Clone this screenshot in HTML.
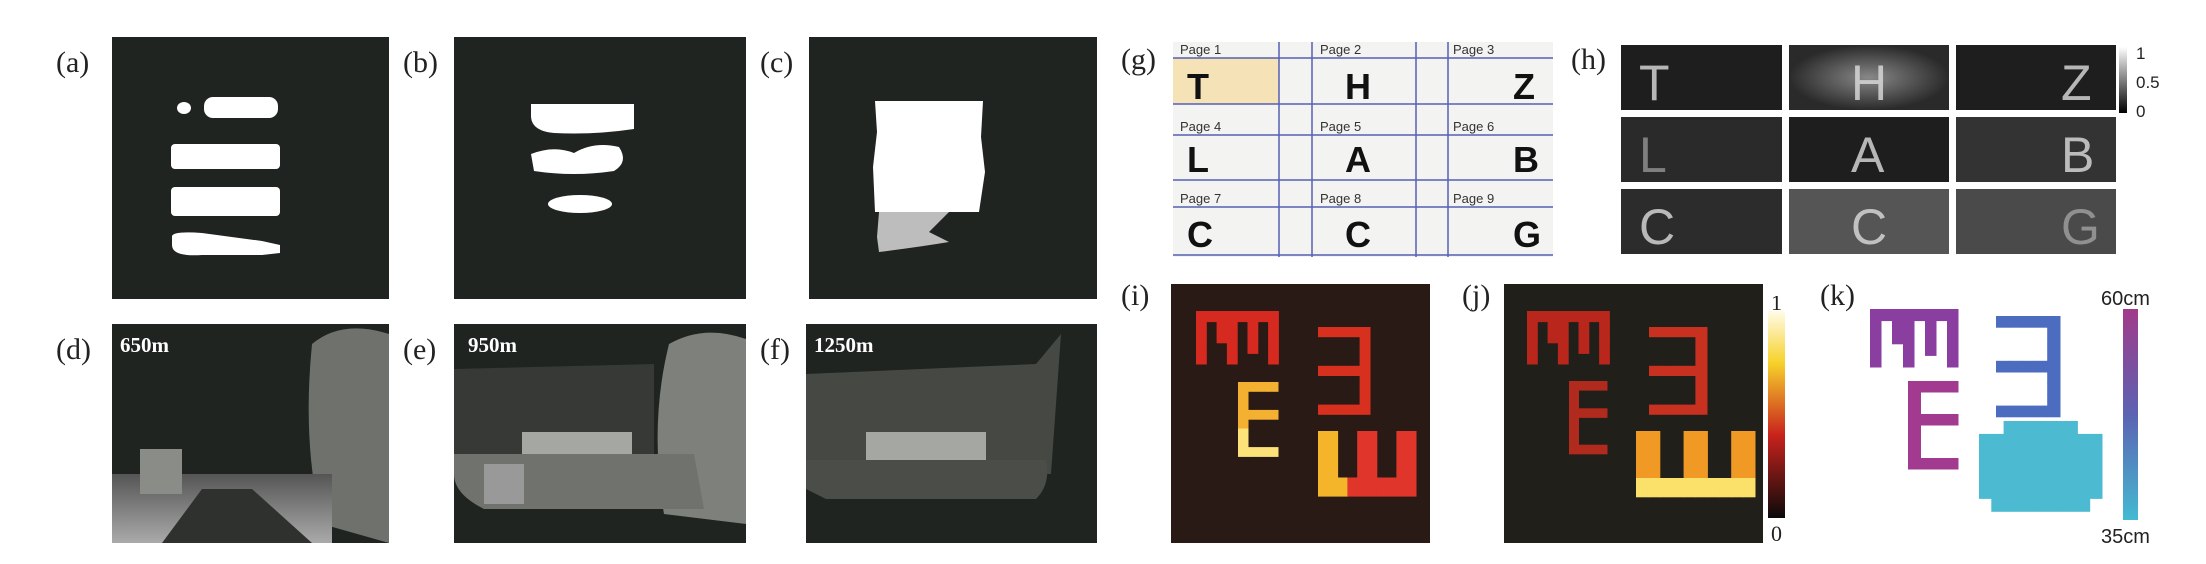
<!DOCTYPE html>
<html><head><meta charset="utf-8">
<style>
body{margin:0;width:2206px;height:564px;background:#fff;position:relative;overflow:hidden;font-family:"Liberation Serif",serif}
.lbl{position:absolute;font-size:30px;color:#222;line-height:1}
.p{position:absolute}
</style></head><body>
<script>
// letter grids for heatmaps
const mPattern=["########","#.##.#.#","#.##.#.#","#..#.#.#","#..#...#"];
const ePattern=["####","#...","#...","####","#...","#...","#...","####"];
const threePattern=["#####","....#","....#","....#","#####","....#","....#","....#","#####"];
const shPattern=["##..##..##","##..##..##","##..##..##","##..##..##","##..##..##","##########","##########"];
</script>

<div class="lbl" style="left:56px;top:48px">(a)</div>
<div class="lbl" style="left:403px;top:48px">(b)</div>
<div class="lbl" style="left:760px;top:48px">(c)</div>
<div class="lbl" style="left:56px;top:335px">(d)</div>
<div class="lbl" style="left:403px;top:335px">(e)</div>
<div class="lbl" style="left:760px;top:335px">(f)</div>

<svg class="p" style="left:112px;top:37px" width="277" height="262">
<rect width="277" height="262" fill="#1f2420"/>
<g fill="#fff"><rect x="92" y="60" width="74" height="21" rx="9"/><ellipse cx="72" cy="71" rx="7" ry="6"/>
<rect x="59" y="107" width="109" height="25" rx="4"/><rect x="59" y="150" width="109" height="29" rx="4"/>
<path d="M60 199 Q62 194 90 196 L150 204 L168 208 L168 216 L150 218 L90 218 Q60 220 60 208Z"/></g></svg>
<svg class="p" style="left:454px;top:37px" width="292" height="262">
<rect width="292" height="262" fill="#1f2420"/>
<g fill="#fff"><path d="M77 67 L180 67 L180 92 Q140 98 100 96 Q78 94 77 80Z"/>
<path d="M77 117 Q100 108 120 116 Q140 104 165 110 Q175 125 160 134 Q120 140 80 134Z"/>
<ellipse cx="126" cy="167" rx="32" ry="9"/></g></svg>
<svg class="p" style="left:809px;top:37px" width="288" height="262">
<rect width="288" height="262" fill="#1f2420"/>
<g fill="#fff"><path d="M66 64 L174 64 L172 100 L176 135 L170 175 L66 175 L64 130 L68 95Z"/>
<path d="M70 175 L140 175 L120 195 L140 205 Q110 210 70 215 L68 200Z" opacity="0.7"/></g></svg>

<svg class="p" style="left:112px;top:324px" width="277" height="219">
<defs><linearGradient id="gd" x1="0" y1="0" x2="0" y2="1"><stop offset="0" stop-color="#555"/><stop offset="1" stop-color="#aaa"/></linearGradient></defs>
<rect width="277" height="219" fill="#1f2420"/>
<path d="M200 20 Q230 -5 277 10 L277 219 L210 200 Q190 120 200 20Z" fill="#6e716c"/>
<rect x="0" y="150" width="220" height="69" fill="url(#gd)"/>
<rect x="28" y="125" width="42" height="45" fill="#8a8c88"/>
<path d="M50 219 L90 165 L140 165 L200 219Z" fill="#2e312d"/>
<text x="8" y="28" font-family="Liberation Serif" font-weight="bold" font-size="21" fill="#fff">650m</text></svg>
<svg class="p" style="left:454px;top:324px" width="292" height="219">
<rect width="292" height="219" fill="#1f2420"/>
<path d="M0 45 L200 40 L200 135 L0 135Z" fill="#363935"/>
<path d="M215 20 Q250 0 292 15 L292 200 L210 190 Q195 100 215 20Z" fill="#7d807b"/>
<rect x="68" y="108" width="110" height="28" fill="#a5a7a2"/>
<path d="M0 130 L240 130 L250 185 L30 185 Q0 170 0 150Z" fill="#6f726d"/>
<rect x="30" y="140" width="40" height="40" fill="#999"/>
<text x="14" y="28" font-family="Liberation Serif" font-weight="bold" font-size="21" fill="#fff">950m</text></svg>
<svg class="p" style="left:806px;top:324px" width="291" height="219">
<rect width="291" height="219" fill="#1f2420"/>
<path d="M0 50 L230 40 L255 10 L245 150 L0 150Z" fill="#454843"/>
<rect x="60" y="108" width="120" height="28" fill="#a5a7a2"/>
<path d="M0 136 L240 136 Q245 160 230 175 L20 175 L0 165Z" fill="#4a4d48"/>
<text x="8" y="28" font-family="Liberation Serif" font-weight="bold" font-size="21" fill="#fff">1250m</text></svg>

<!-- g -->
<div class="lbl" style="left:1121px;top:45px">(g)</div>
<svg class="p" style="left:1173px;top:42px" width="380" height="215" font-family="Liberation Sans">
<rect width="380" height="215" fill="#f3f3f1"/>
<rect x="0" y="16" width="106" height="46" fill="#f5e2b6"/>
<g stroke="#5560b5" stroke-width="1.5">
<line x1="0" y1="16" x2="380" y2="16"/><line x1="0" y1="62" x2="380" y2="62"/><line x1="0" y1="93" x2="380" y2="93"/>
<line x1="0" y1="138" x2="380" y2="138"/><line x1="0" y1="165" x2="380" y2="165"/><line x1="0" y1="213" x2="380" y2="213"/>
<line x1="106" y1="0" x2="106" y2="215"/><line x1="139" y1="0" x2="139" y2="215"/><line x1="243" y1="0" x2="243" y2="215"/><line x1="275" y1="0" x2="275" y2="215"/></g>
<g font-size="13" fill="#333">
<text x="7" y="12">Page 1</text><text x="147" y="12">Page 2</text><text x="280" y="12">Page 3</text>
<text x="7" y="89">Page 4</text><text x="147" y="89">Page 5</text><text x="280" y="89">Page 6</text>
<text x="7" y="161">Page 7</text><text x="147" y="161">Page 8</text><text x="280" y="161">Page 9</text></g>
<g font-size="36" font-weight="bold" fill="#111">
<text x="14" y="57">T</text><text x="172" y="57">H</text><text x="340" y="57">Z</text>
<text x="14" y="130">L</text><text x="172" y="130">A</text><text x="340" y="130">B</text>
<text x="14" y="205">C</text><text x="172" y="205">C</text><text x="340" y="205">G</text></g></svg>

<!-- h -->
<div class="lbl" style="left:1571px;top:45px">(h)</div>
<svg class="p" style="left:1621px;top:45px" width="540" height="210" font-family="Liberation Sans">
<defs><radialGradient id="hg"><stop offset="0" stop-color="#888"/><stop offset="1" stop-color="#2a2a2a"/></radialGradient></defs>
<g fill="#1e1e1e"><rect x="0" y="0" width="161" height="65"/><rect x="168" y="0" width="160" height="65" fill="url(#hg)"/><rect x="335" y="0" width="160" height="65"/>
<rect x="0" y="72" width="161" height="65" fill="#2a2a2a"/><rect x="168" y="72" width="160" height="65"/><rect x="335" y="72" width="160" height="65" fill="#333"/>
<rect x="0" y="144" width="161" height="65" fill="#2c2c2c"/><rect x="168" y="144" width="160" height="65" fill="#555"/><rect x="335" y="144" width="160" height="65" fill="#4a4a4a"/></g>
<g font-size="50" fill="#ddd" opacity="0.8">
<text x="18" y="55">T</text><text x="230" y="55">H</text><text x="440" y="55">Z</text>
<text x="18" y="127" opacity="0.6">L</text><text x="230" y="127">A</text><text x="440" y="127">B</text>
<text x="18" y="199">C</text><text x="230" y="199">C</text><text x="440" y="199" opacity="0.6">G</text></g>
<defs><linearGradient id="hb" x1="0" y1="0" x2="0" y2="1"><stop offset="0" stop-color="#fff"/><stop offset="1" stop-color="#000"/></linearGradient></defs>
<rect x="498" y="2" width="8" height="66" fill="url(#hb)"/>
<g font-size="17" fill="#222"><text x="515" y="14">1</text><text x="515" y="43">0.5</text><text x="515" y="72">0</text></g></svg>

<!-- i, j, k -->
<div class="lbl" style="left:1121px;top:281px">(i)</div>
<div class="lbl" style="left:1462px;top:281px">(j)</div>
<div class="lbl" style="left:1820px;top:281px">(k)</div>
<svg class="p" id="pi" style="left:1171px;top:284px" width="259" height="259"><rect width="259" height="259" fill="#2a1a15"/></svg>
<svg class="p" id="pj" style="left:1504px;top:284px" width="259" height="259"><rect width="259" height="259" fill="#211f1a"/></svg>
<svg class="p" id="pk" style="left:1860px;top:300px" width="250" height="230"></svg>
<svg class="p" style="left:1765px;top:296px" width="40" height="250" font-family="Liberation Serif">
<defs><linearGradient id="jb" x1="0" y1="0" x2="0" y2="1"><stop offset="0" stop-color="#fffbe8"/><stop offset="0.25" stop-color="#f7d22a"/><stop offset="0.6" stop-color="#c8221c"/><stop offset="1" stop-color="#0a0a0a"/></linearGradient></defs>
<rect x="3" y="15" width="17" height="207" fill="url(#jb)"/>
<text x="6" y="14" font-size="22" fill="#222">1</text><text x="6" y="245" font-size="22" fill="#222">0</text></svg>
<svg class="p" style="left:2095px;top:285px" width="80" height="270" font-family="Liberation Sans">
<defs><linearGradient id="kb" x1="0" y1="0" x2="0" y2="1"><stop offset="0" stop-color="#a23a8a"/><stop offset="0.5" stop-color="#5c63b2"/><stop offset="1" stop-color="#44bad2"/></linearGradient></defs>
<rect x="28" y="24" width="15" height="211" fill="url(#kb)"/>
<text x="6" y="20" font-size="20" fill="#222">60cm</text><text x="6" y="258" font-size="20" fill="#222">35cm</text></svg>

<script>
const NS="http://www.w3.org/2000/svg";
function drawPattern(svg,pat,ox,oy,cw,ch,color,name){
  pat.forEach((row,r)=>{[...row].forEach((c,k)=>{
    if(c!=='#')return;
    const el=document.createElementNS(NS,'rect');
    
    
    el.setAttribute('x',ox+k*cw);el.setAttribute('y',oy+r*ch);
    el.setAttribute('width',cw+0.5);el.setAttribute('height',ch+0.5);
    el.setAttribute('fill',typeof color==='function'?color(r,k):color);
    svg.appendChild(el);
  });});
}
const pi=document.getElementById('pi'),pj=document.getElementById('pj'),pk=document.getElementById('pk');
drawPattern(pi,mPattern,25,27,10.3,10.6,'#d62a20','cell-m');
drawPattern(pi,ePattern,67,98,10,9.3,(r)=>r>4?'#fde27a':'#f4b030','cell-e');
drawPattern(pi,threePattern,147,43,10.4,9.7,'#d8301f','cell-3');
drawPattern(pi,shPattern,147,147,9.8,9.3,(r,k)=>k<3?'#f5b52a':'#e0352a','cell-sh');
drawPattern(pj,mPattern,23,27,10.3,10.6,'#b8261c','cell-m');
drawPattern(pj,ePattern,65,97,9.5,9.1,'#b02a1e','cell-e');
drawPattern(pj,threePattern,145,43,11.6,9.7,'#c83020','cell-3');
drawPattern(pj,shPattern,132,147,11.9,9.4,(r)=>r>4?'#fbe06a':'#f09a25','cell-sh');
drawPattern(pk,mPattern,10,9,11,11.6,'#8a3e9f','cell-m');
drawPattern(pk,ePattern,48,81,12.5,11,'#a23a90','cell-e');
drawPattern(pk,threePattern,136,16,12.8,11.2,'#4c6cc0','cell-3');
drawPattern(pk,["..######..","##########","##########","##########","##########","##########",".########."],119,121,12.3,12.9,'#4cbbd2','cell-blob');
</script>
</body></html>
